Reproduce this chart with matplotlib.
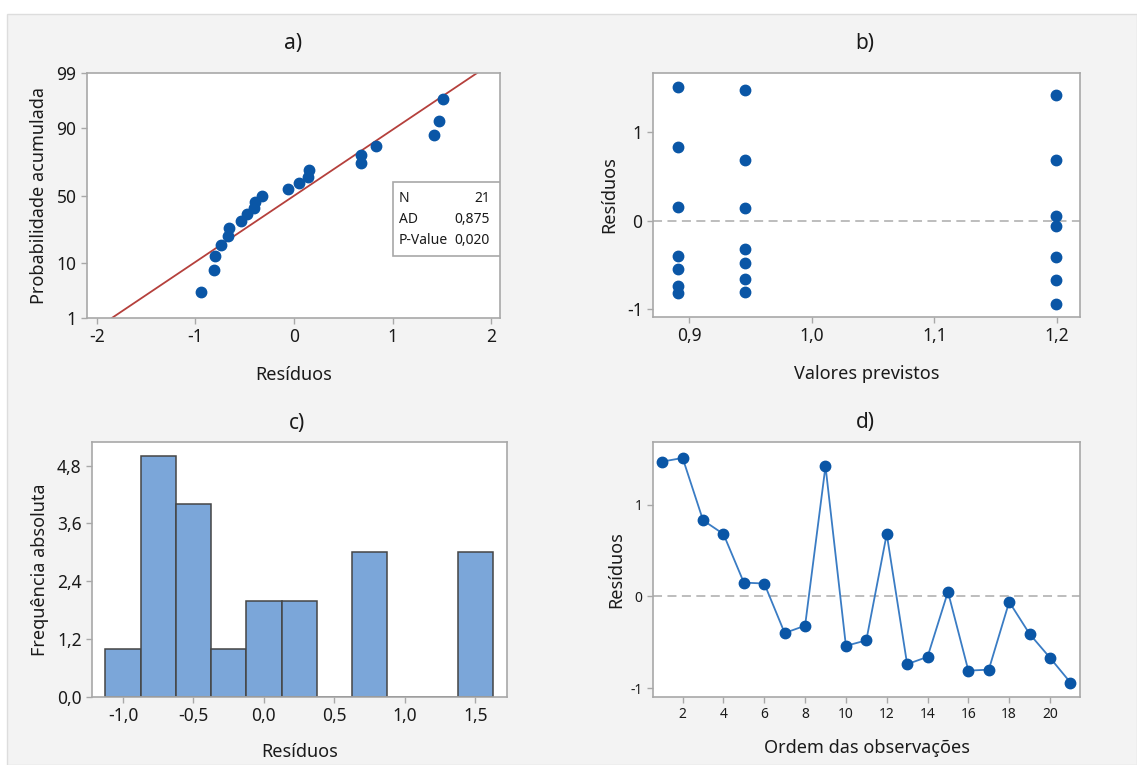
import matplotlib
matplotlib.use("Agg")
import matplotlib.pyplot as plt
from matplotlib.ticker import FuncFormatter
from matplotlib.patches import Rectangle
from statistics import NormalDist
import numpy as np

plt.rcParams["font.family"] = ["Noto Sans", "DejaVu Sans"]
plt.rcParams["axes.unicode_minus"] = False

# residuals in observation order (panel d)
obs_order = list(range(1, 22))
residuals = [1.47, 1.51, 0.83, 0.68, 0.15, 0.14, -0.40, -0.32, 1.42, -0.54, -0.48,
             0.68, -0.74, -0.66, 0.05, -0.81, -0.80, -0.06, -0.41, -0.67, -0.94]
# predicted value for each observation (panel b)
fitted = [0.9457, 0.8908, 0.8908, 0.9457, 0.8908, 0.9457, 0.8908, 0.9457, 1.199, 0.8908, 0.9457,
          1.199, 0.8908, 0.9457, 1.199, 0.8908, 0.9457, 1.199, 1.199, 1.199, 1.199]

# normal probability plot (panel a): cumulative percent of the sorted residuals
prob_pct = [3.3, 7.9, 12.6, 17.3, 22.0, 26.6, 31.3, 36.0, 40.7, 45.3, 50.0,
            54.7, 59.3, 64.0, 68.7, 73.4, 78.0, 82.7, 87.4, 92.1, 96.7]
stats_rows = [("N", "21"), ("AD", "0,875"), ("P-Value", "0,020")]

# histogram bins (panel c)
hist_edges = [-1.125, -0.875, -0.625, -0.375, -0.125, 0.125, 0.375, 0.625, 0.875, 1.125, 1.375, 1.625]

W, H = 1137, 765
fig = plt.figure(figsize=(W / 100, H / 100), dpi=100, facecolor="white")
fig.patches.append(Rectangle((7 / W, 0), 1 - 7 / W, 1 - 14 / H, transform=fig.transFigure,
                             facecolor="#f3f3f3", edgecolor="#dddddd", lw=1, zorder=-10))

dot_color = "#0a56a6"
spine_color = "#a8a8a8"
text_color = "#1a1a1a"


def box(l, r, t, b):
    return [l / W, 1 - b / H, (r - l) / W, (b - t) / H]


def comma(fmt):
    return FuncFormatter(lambda v, pos: fmt.format(v).replace(".", ","))


def style(ax, tick_size=12.5):
    for s in ax.spines.values():
        s.set_color(spine_color)
        s.set_linewidth(1.2)
    ax.tick_params(colors=spine_color, labelcolor=text_color, labelsize=tick_size, length=4, width=1)
    ax.set_facecolor("white")


# a) normal probability plot
nd = NormalDist()
probit_v = np.vectorize(nd.inv_cdf, otypes=[float])
cdf_v = np.vectorize(nd.cdf, otypes=[float])


def probit(p):
    p = np.clip(np.asarray(p, dtype=float), 1e-4, 100 - 1e-4)
    return probit_v(p / 100)


def inv_probit(z):
    return cdf_v(np.asarray(z, dtype=float)) * 100


ax = fig.add_axes(box(87, 500, 73, 318))
style(ax)
ax.set_yscale("function", functions=(probit, inv_probit))
mu = np.mean(residuals)
sd = np.std(residuals, ddof=1)
line_p = [1, 99]
line_x = [mu + sd * nd.inv_cdf(p / 100) for p in line_p]
ax.plot(line_x, line_p, color="#b5403c", lw=1.3, zorder=2)
ax.plot(sorted(residuals), prob_pct, "o", color=dot_color, ms=7.5, zorder=3)
ax.set_ylim(1, 99)
ax.set_xlim(-2.10, 2.09)
ax.set_yticks([1, 10, 50, 90, 99])
ax.set_yticklabels(["1", "10", "50", "90", "99"])
ax.set_xticks([-2, -1, 0, 1, 2])
ax.set_xlabel("Resíduos", fontsize=13, color=text_color, labelpad=14)
ax.set_ylabel("Probabilidade acumulada", fontsize=13, color=text_color, labelpad=6)
ax.add_patch(Rectangle((0.741, 0.253), 0.259, 0.302, transform=ax.transAxes,
                       facecolor="white", edgecolor=spine_color, lw=1.2, zorder=4))
for i, (k, v) in enumerate(stats_rows):
    yy = 0.486 - i * 0.084
    ax.text(0.755, yy, k, transform=ax.transAxes, fontsize=10, color=text_color, va="center", zorder=5)
    ax.text(0.976, yy, v, transform=ax.transAxes, fontsize=10, color=text_color, va="center",
            ha="right", zorder=5)
fig.text(293 / W, 1 - 43 / H, "a)", fontsize=15, ha="center", va="center", color=text_color)

# b) residuals vs fitted
ax = fig.add_axes(box(653, 1080, 73, 317))
style(ax)
ax.axhline(0, color="#b8b8b8", lw=1.3, ls=(0, (5, 3)), zorder=1)
ax.plot(fitted, residuals, "o", color=dot_color, ms=7.5, zorder=3)
ax.set_xlim(0.8704, 1.219)
ax.set_ylim(-1.086, 1.665)
ax.set_xticks([0.9, 1.0, 1.1, 1.2])
ax.xaxis.set_major_formatter(comma("{:.1f}"))
ax.set_yticks([-1, 0, 1])
ax.set_xlabel("Valores previstos", fontsize=13, color=text_color, labelpad=14)
ax.set_ylabel("Resíduos", fontsize=13, color=text_color, labelpad=6)
fig.text(865 / W, 1 - 43 / H, "b)", fontsize=15, ha="center", va="center", color=text_color)

# c) histogram
ax = fig.add_axes(box(92, 507, 442, 697))
style(ax)
ax.hist(residuals, bins=hist_edges, color="#7ba6d9", edgecolor="#454545", linewidth=1.1, zorder=2)
ax.set_xlim(-1.22, 1.725)
ax.set_ylim(0, 5.29)
ax.set_yticks([0, 1.2, 2.4, 3.6, 4.8])
ax.yaxis.set_major_formatter(comma("{:.1f}"))
ax.set_xticks([-1.0, -0.5, 0.0, 0.5, 1.0, 1.5])
ax.xaxis.set_major_formatter(comma("{:.1f}"))
ax.set_xlabel("Resíduos", fontsize=13, color=text_color, labelpad=13)
ax.set_ylabel("Frequência absoluta", fontsize=13, color=text_color, labelpad=6)
fig.text(297 / W, 1 - 423 / H, "c)", fontsize=15, ha="center", va="center", color=text_color)

# d) residuals vs observation order
ax = fig.add_axes(box(653, 1080, 442, 697))
style(ax, tick_size=10)
ax.axhline(0, color="#b8b8b8", lw=1.3, ls=(0, (5, 3)), zorder=1)
ax.plot(obs_order, residuals, "-o", color="#3a7cc4", lw=1.3, ms=7.5,
        markerfacecolor=dot_color, markeredgecolor=dot_color, zorder=3)
ax.set_xlim(0.548, 21.47)
ax.set_ylim(-1.098, 1.684)
ax.set_xticks(range(2, 21, 2))
ax.set_yticks([-1, 0, 1])
ax.set_xlabel("Ordem das observações", fontsize=13, color=text_color, labelpad=12)
ax.set_ylabel("Resíduos", fontsize=13, color=text_color, labelpad=4)
fig.text(865 / W, 1 - 422 / H, "d)", fontsize=15, ha="center", va="center", color=text_color)

fig.savefig("out.png", dpi=100, facecolor=fig.get_facecolor())
